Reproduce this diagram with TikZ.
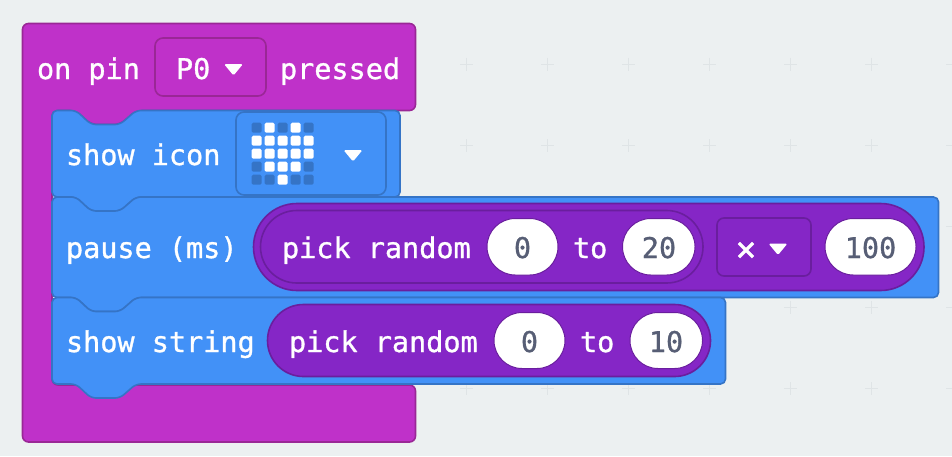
\documentclass[tikz,border=0pt]{standalone}
\usepackage{fontspec}
\setmonofont[FakeBold=1]{DejaVu Sans Mono}
\definecolor{bg}{HTML}{ECF0F1}
\definecolor{gridc}{HTML}{DFE4E6}
\definecolor{pinkf}{HTML}{BF31C9}
\definecolor{pinks}{HTML}{9A2796}
\definecolor{bluef}{HTML}{4291F7}
\definecolor{blues}{HTML}{3574C6}
\definecolor{purf}{HTML}{8526C6}
\definecolor{purs}{HTML}{6A1E9E}
\definecolor{numc}{HTML}{575E75}
\newcommand{\pillbox}[5]{% style,x1,y1,x2,y2
  \pgfmathsetmacro{\pillr}{(#5-#3)/2-0.05}
  \draw[#1,rounded corners=\pillr pt] (#2,#3) rectangle (#4,#5);}
\newcommand{\caretmark}[2]{%
  \fill[white,rounded corners=1.5pt] (#1-9.5,#2-5.5) -- (#1+9.5,#2-5.5) -- (#1,#2+6) -- cycle;}
\tikzset{
  lbl/.style={anchor=base west,inner sep=0pt,outer sep=0pt,text=white,font=\ttfamily\fontsize{28.5}{30}\selectfont},
  lblc/.style={lbl,anchor=base},
  num/.style={lblc,text=numc},
  timeslbl/.style={lblc,font=\ttfamily\fontsize{35}{36}\selectfont},
  hatblock/.style={fill=pinkf,draw=pinks,line width=1.6pt,rounded corners=6pt},
  stackblock/.style={fill=bluef,draw=blues,line width=1.6pt,rounded corners=5pt},
  ddpink/.style={fill=pinkf,draw=pinks,line width=1.6pt,rounded corners=8pt},
  ddblue/.style={fill=bluef,draw=blues,line width=1.6pt,rounded corners=8pt},
  ddpur/.style={fill=purf,draw=purs,line width=1.6pt,rounded corners=7pt},
  purpill/.style={fill=purf,draw=purs,line width=1.6pt},
  whitepill/.style={fill=white,draw=purs,line width=1pt},
  gridmark/.style={draw=gridc,line width=1pt},
  ledon/.style={fill=white,rounded corners=1.5pt},
  ledoff/.style={fill=blues,rounded corners=1.5pt}
}
\begin{document}
\begin{tikzpicture}[x=1pt,y=-1pt]
\useasboundingbox (0,0) rectangle (952,456);
\fill[bg] (0,0) rectangle (952,456);
% workspace grid
\foreach \gx in {466.5,547.5,628.5,709.5,790.5,871.5,952.5}{
  \foreach \gy in {64,145.5,226,307,388.5}{
    \draw[gridmark] (\gx-6.5,\gy) -- (\gx+6.5,\gy) (\gx,\gy-6.5) -- (\gx,\gy+6.5);
  }
}
% hat block
\draw[hatblock] (22.5,23.5) -- (415.5,23.5) -- (415.5,110.5) -- (136,110.5) -- (120,124.5) -- (91,124.5) -- (76,110.5) -- (52,110.5) -- (52,385) -- (415.5,385) -- (415.5,442) -- (22.5,442) -- cycle;
% show icon block
\draw[stackblock] (52,110.5) -- (76,110.5) -- (91,124.5) -- (120,124.5) -- (136,110.5) -- (400,110.5) -- (400,197) -- (136,197) -- (120,211) -- (91,211) -- (76,197) -- (52,197) -- cycle;
% pause block
\draw[stackblock] (52,197) -- (76,197) -- (91,211) -- (120,211) -- (136,197) -- (938.5,197) -- (938.5,297.5) -- (136,297.5) -- (120,311.5) -- (91,311.5) -- (76,297.5) -- (52,297.5) -- cycle;
% show string block
\draw[stackblock] (52,297.5) -- (76,297.5) -- (91,311.5) -- (120,311.5) -- (136,297.5) -- (725.5,297.5) -- (725.5,384) -- (136,384) -- (120,398) -- (91,398) -- (76,384) -- (52,384) -- cycle;
% on pin row
\node[lbl] (onpin) at (37,79) {on pin};
\draw[ddpink] (155,38) rectangle (266,96);
\node[lbl] (pzero) at (176,79) {P0};
\caretmark{233.5}{69.5}
\node[lbl] (pressed) at (280,79) {pressed};
% show icon row
\node[lbl] (showicon) at (66,165) {show icon};
\draw[ddblue] (236,112) rectangle (386,195);
\foreach \cx/\cy/\st in {
  0/0/ledoff,1/0/ledon,2/0/ledoff,3/0/ledon,4/0/ledoff,
  0/1/ledon,1/1/ledon,2/1/ledon,3/1/ledon,4/1/ledon,
  0/2/ledon,1/2/ledon,2/2/ledon,3/2/ledon,4/2/ledon,
  0/3/ledoff,1/3/ledon,2/3/ledon,3/3/ledon,4/3/ledoff,
  0/4/ledoff,1/4/ledoff,2/4/ledon,3/4/ledoff,4/4/ledoff}{
  \fill[\st] (251.7+13*\cx,122.7+13*\cy) rectangle ++(10,10);
}
\caretmark{353}{155.5}
% pause row
\node[lbl] (pausems) at (66,258) {pause (ms)};
\pillbox{purpill}{253.5}{203.5}{924}{290.5}
\pillbox{purpill}{260.5}{210.5}{703}{283}
\node[lbl] (pickA) at (282,258) {pick random};
\pillbox{whitepill}{487}{218.5}{558}{275}
\node[num] (zeroA) at (522.5,258) {0};
\node[lbl] (toA) at (573,258) {to};
\pillbox{whitepill}{622.5}{218.5}{695}{275}
\node[num] (twenty) at (659,258) {20};
\draw[ddpur] (717,218) rectangle (811,276);
\node[timeslbl] (times) at (746,261) {×};
\caretmark{778}{249}
\pillbox{whitepill}{825}{218.5}{916}{275}
\node[num] (hundred) at (870.5,258) {100};
% show string row
\node[lbl] (showstr) at (66,352) {show string};
\pillbox{purpill}{267.5}{304.5}{710.5}{376.5}
\node[lbl] (pickB) at (289,352) {pick random};
\pillbox{whitepill}{494}{312.5}{565}{368.5}
\node[num] (zeroB) at (529.5,352) {0};
\node[lbl] (toB) at (580,352) {to};
\pillbox{whitepill}{630}{312.5}{702.5}{368.5}
\node[num] (ten) at (666,352) {10};
\end{tikzpicture}
\end{document}
